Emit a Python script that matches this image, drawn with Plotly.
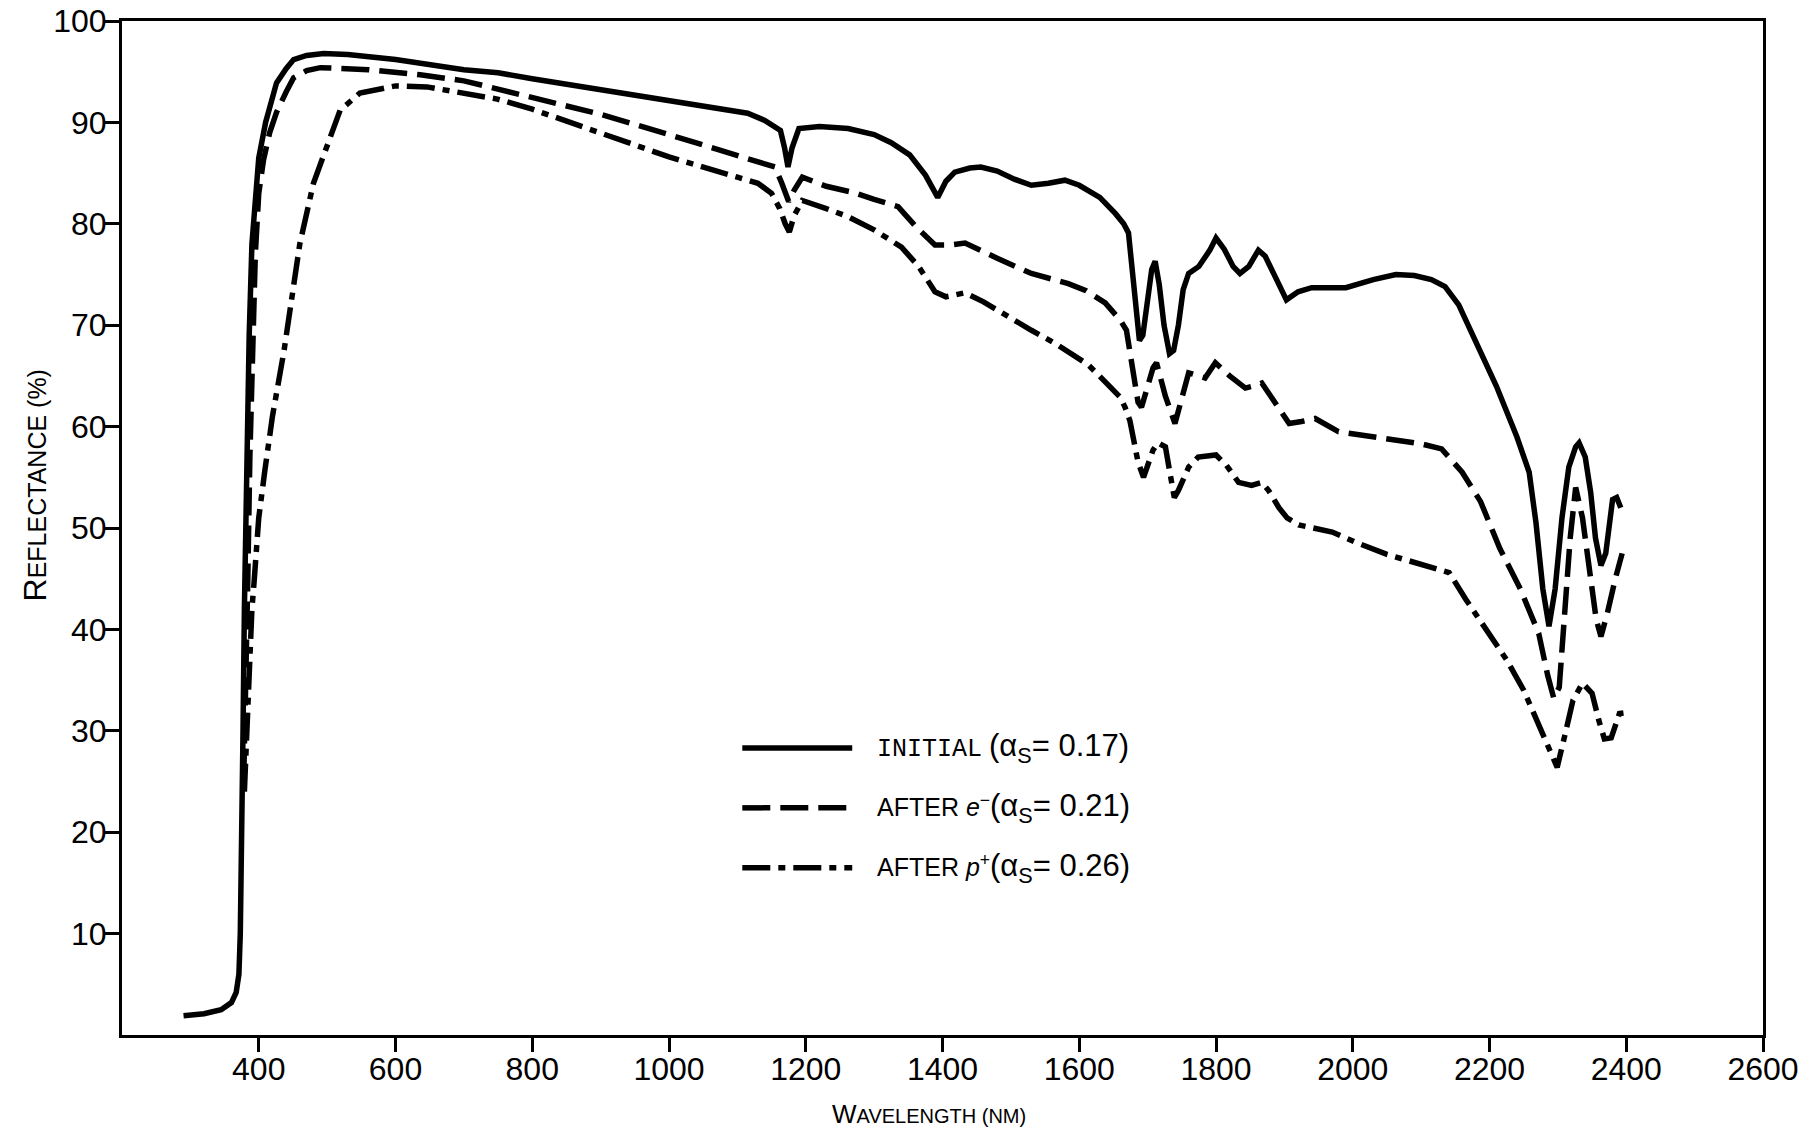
import plotly.graph_objects as go

# ---- data ----
init_x = [290,320,345,360,367,371,373,375,377,379,381,383,386,390,395,400,410,426,440,451,470,495,530,600,700,750,800,900,1000,1050,1115,1140,1163,1169,1174,1180,1190,1220,1262,1300,1325,1352,1375,1393,1405,1418,1440,1456,1480,1505,1530,1555,1579,1600,1630,1653,1665,1672,1677,1682,1688,1693,1700,1706,1711,1717,1724,1732,1738,1745,1752,1760,1775,1791,1800,1812,1825,1835,1848,1856,1862,1872,1888,1903,1920,1940,1990,2030,2063,2090,2115,2135,2155,2180,2210,2240,2258,2268,2278,2287,2296,2306,2316,2326,2331,2340,2348,2355,2363,2370,2376,2380,2386,2392]
init_y = [1.9,2.1,2.5,3.2,4.2,6,10,18,30,42,52,60,69,78,83,86.5,90,93.9,95.3,96.2,96.6,96.8,96.7,96.2,95.2,94.9,94.3,93.2,92.2,91.6,90.9,90.2,89.2,87.5,85.6,87.5,89.4,89.6,89.4,88.8,88,86.8,84.8,82.6,84.2,85.1,85.5,85.6,85.2,84.4,83.8,84,84.3,83.8,82.6,81,80,79.1,76,72.5,68.5,69,72.5,75.5,76.3,74,70,67.2,67.5,70,73.5,75.1,75.8,77.4,78.6,77.5,75.8,75.1,75.8,76.8,77.4,76.8,74.5,72.5,73.3,73.7,73.7,74.5,75,74.9,74.5,73.8,72,68.5,64,59,55.5,50.5,44,40.3,44,51,56,58,58.4,57,53.5,49,46.3,47.5,51,52.8,53,52]

elec_x = [378,381,384,387,390,395,400,407,416,426,440,451,470,490,560,636,700,756,800,900,1000,1100,1155,1165,1175,1183,1195,1230,1269,1300,1335,1360,1389,1410,1433,1480,1530,1584,1610,1638,1660,1669,1676,1682,1686,1691,1697,1708,1713,1726,1740,1750,1760,1784,1799,1820,1843,1855,1867,1885,1907,1925,1945,1979,2057,2100,2130,2160,2187,2215,2245,2272,2285,2294,2302,2310,2318,2326,2336,2348,2356,2363,2372,2384,2394]
elec_y = [25,33,45,57,67,77,83,86.3,89,91,93,94.4,95.1,95.4,95.2,94.7,94.1,93.2,92.5,90.8,88.8,86.8,85.6,84,82.2,83.3,84.6,83.7,83.1,82.4,81.7,79.8,77.9,77.9,78.1,76.6,75.1,74.1,73.4,72.2,70.5,69.5,66.5,64.5,62.4,61.9,63.3,65.8,66.3,63,60.3,63,65.3,64.8,66.3,65,63.8,64,64.3,62.5,60.3,60.5,60.8,59.5,58.7,58.3,57.8,55.5,52.6,48,44,39.6,35.5,33.2,34.3,42,49,54,51,45,41,39.3,41.5,45,47.5]

prot_x = [379,382,386,390,393,400,409,420,437,450,460,480,500,519,548,600,646,700,749,800,900,1000,1100,1130,1150,1162,1170,1176,1183,1195,1230,1262,1300,1340,1365,1389,1405,1433,1460,1496,1530,1565,1613,1628,1645,1660,1667,1674,1686,1694,1708,1715,1726,1735,1739,1745,1760,1774,1800,1815,1833,1852,1867,1877,1892,1904,1921,1970,2004,2050,2100,2141,2165,2195,2225,2250,2270,2285,2299,2310,2322,2336,2350,2360,2368,2378,2390,2401]
prot_y = [24,30,37,42,44.5,51,55.7,61,67.5,73,78,84,87.6,91.2,92.9,93.6,93.5,92.9,92.3,91.3,88.9,86.6,84.6,84,83,81.5,80,79.2,80.8,82.3,81.5,80.7,79.4,77.7,75.8,73.3,72.8,73.2,72.3,70.8,69.5,68.2,66.1,65.1,64,62.9,61.9,60.6,56.5,55,57.7,58.4,58,54.4,53,53.7,56,57,57.2,56.2,54.5,54.2,54.5,53.7,52,51,50.3,49.6,48.6,47.4,46.4,45.6,43,40,37,34,30.8,28.3,26.4,29.5,33,34.7,33.7,31,29.2,29.3,31.7,31.8]

x_ticks = [400,600,800,1000,1200,1400,1600,1800,2000,2200,2400,2600]
y_ticks = [10,20,30,40,50,60,70,80,90,100]

legend_names = ["<span style='font-family:Liberation Mono'>INITIAL</span> ",
                "AFTER <i>e</i><sup>−</sup>",
                "AFTER <i>p</i><sup>+</sup>"]
legend_alpha = ["0.17", "0.21", "0.26"]

x_title = "W<span style='font-size:20px'>AVELENGTH (NM)</span>"
y_title = "R<span style='font-size:25px'>EFLECTANCE (%)</span>"

FONT = "Liberation Sans, Arial, sans-serif"
DASH = "28px,10px"
DASHDOT = "28px,8px,7px,8px"
LW = 5.5

fig = go.Figure()
fig.add_trace(go.Scatter(x=init_x, y=init_y, mode="lines",
                         line=dict(color="black", width=LW), name="initial"))
fig.add_trace(go.Scatter(x=elec_x, y=elec_y, mode="lines",
                         line=dict(color="black", width=LW, dash=DASH), name="after e-"))
fig.add_trace(go.Scatter(x=prot_x, y=prot_y, mode="lines",
                         line=dict(color="black", width=LW, dash=DASHDOT), name="after p+"))

# legend: key lines + labels (paper coordinates)
dashes = ["solid", DASH, DASHDOT]
ys = [0.283, 0.224, 0.165]
for name, a, d, yy in zip(legend_names, legend_alpha, dashes, ys):
    fig.add_shape(type="line", xref="paper", yref="paper",
                  x0=0.378, x1=0.445, y0=yy, y1=yy,
                  line=dict(color="black", width=LW, dash=d))
    lab = f"{name}<span style='font-size:31px'>(α<sub>S</sub>= {a})</span>"
    fig.add_annotation(xref="paper", yref="paper", x=0.459, y=yy, text=lab,
                       showarrow=False, xanchor="left", yanchor="middle",
                       font=dict(family=FONT, size=25, color="black"))

# axis titles as annotations (placed as in the reference)
fig.add_annotation(xref="paper", yref="paper", x=0.492, y=-0.078, text=x_title,
                   showarrow=False, xanchor="center", yanchor="middle",
                   font=dict(family=FONT, size=26, color="black"))
fig.add_annotation(xref="paper", yref="paper", x=-0.053, y=0.542, text=y_title,
                   showarrow=False, xanchor="center", yanchor="middle", textangle=-90,
                   font=dict(family=FONT, size=32, color="black"))

fig.update_layout(
    width=1819, height=1133,
    margin=dict(l=122, r=56, t=21, b=98),
    paper_bgcolor="white", plot_bgcolor="white",
    showlegend=False,
    font=dict(family=FONT, color="black"),
    xaxis=dict(range=[200, 2600], tickvals=x_ticks, ticktext=[str(v) for v in x_ticks],
               ticks="outside", ticklen=14, tickwidth=3, tickcolor="black",
               showline=True, linewidth=3, linecolor="black", mirror=True,
               showgrid=False, zeroline=False, automargin=False,
               ticklabelstandoff=-10, ticklabeloverflow="allow",
               tickfont=dict(family=FONT, size=32, color="black")),
    yaxis=dict(range=[0, 100], tickvals=y_ticks, ticktext=[str(v) for v in y_ticks],
               ticks="outside", ticklen=14, tickwidth=3, tickcolor="black",
               showline=True, linewidth=3, linecolor="black", mirror=True,
               showgrid=False, zeroline=False, automargin=False,
               ticklabelstandoff=-8, ticklabeloverflow="allow",
               tickfont=dict(family=FONT, size=32, color="black")),
)

# remove the page's default 8px body margin so the figure fills the window exactly
fig.write_html("out.html", config={"displayModeBar": False},
               post_script="document.body.style.margin='0';")
